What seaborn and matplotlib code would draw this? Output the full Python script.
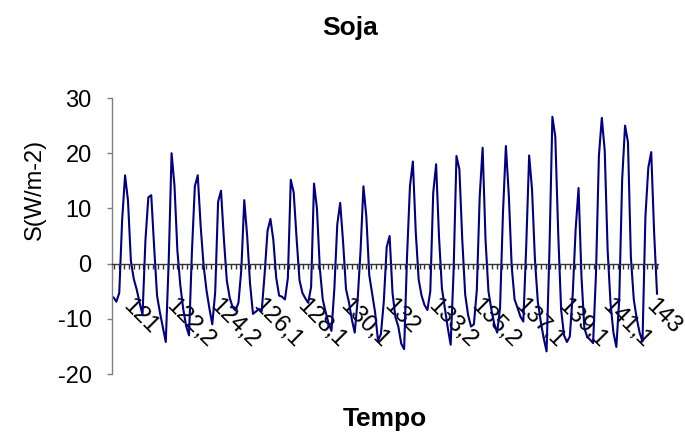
import numpy as np
import matplotlib
matplotlib.use("Agg")
import matplotlib.pyplot as plt
from matplotlib.ticker import FixedLocator
from matplotlib.transforms import ScaledTranslation
import seaborn as sns

# fluxo de calor no solo S (W/m2), lido ponto a ponto no grafico
fluxo = [
    -6.1, -6.9, -5.3, 8.0, 16.0, 11.4, 0.5, -2.8, -4.7, -7.1,
    -9.3, 4.2, 12.0, 12.4, 3.0, -5.8, -8.9, -11.6, -14.2, 0.3,
    20.0, 14.1, 2.3, -3.9, -8.2, -11.3, -13.0, 2.2, 14.0, 16.0,
    6.8, -0.3, -4.8, -8.1, -11.0, -5.2, 11.2, 13.2, 4.4, -3.1,
    -6.2, -7.9, -8.5, -7.1, -1.0, 11.5, 5.0, -3.7, -9.1, -8.7,
    -8.2, -8.6, -1.9, 5.9, 8.1, 4.3, -2.6, -5.8, -6.0, -6.5,
    -2.6, 15.2, 12.9, 4.6, -3.0, -5.3, -6.3, -7.1, -4.2, 14.5,
    10.0, -0.9, -6.5, -8.8, -10.8, -12.2, -4.5, 7.1, 11.0, 3.9,
    -4.6, -7.0, -10.1, -12.5, -6.6, 2.3, 14.0, 8.5, -2.1, -5.4,
    -8.8, -13.9, -12.8, -6.9, 3.0, 5.0, -5.3, -9.7, -11.4, -14.5,
    -15.5, 1.3, 14.0, 18.5, 5.7, -2.9, -5.8, -7.5, -8.4, -5.0,
    12.8, 18.0, 4.8, -4.5, -8.1, -11.6, -14.7, -1.6, 19.5, 17.1,
    4.3, -5.6, -9.3, -11.4, -11.0, -4.8, 12.2, 21.0, 4.3, -5.0,
    -8.3, -10.9, -12.5, -8.0, 9.2, 21.3, 12.5, -0.5, -6.5, -8.0,
    -9.6, -10.5, 3.2, 19.6, 13.4, 0.7, -7.0, -10.5, -13.5, -15.9,
    2.7, 26.6, 23.0, 5.5, -8.3, -13.0, -14.2, -13.2, -5.5, 6.2,
    13.7, -2.3, -11.7, -13.3, -13.8, -14.4, -1.8, 19.5, 26.4, 20.5,
    2.5, -7.2, -12.5, -15.1, -6.5, 15.2, 25.0, 22.0, 1.2, -6.5,
    -9.9, -12.5, -14.1, 8.5, 17.4, 20.2, 5.6, -5.5,
]

# dia juliano mostrado no eixo x
rotulos = ["121", "122,2", "124,2", "126,1", "128,1", "130,1", "132",
           "133,2", "135,2", "137,1", "139,1", "141,1", "143"]
inicio_rotulo = 7
passo_rotulo = 15

sns.set_theme(style="white")
plt.rcParams["font.family"] = ["Liberation Sans", "DejaVu Sans"]
plt.rcParams["axes.unicode_minus"] = False
plt.rcParams["text.color"] = "black"
plt.rcParams["axes.labelcolor"] = "black"
plt.rcParams["xtick.color"] = "black"
plt.rcParams["ytick.color"] = "black"

fig = plt.figure(figsize=(6.85, 4.36), dpi=100)
ax = fig.add_axes([0.1635, 0.1422, 0.7978, 0.633])

idx = np.arange(len(fluxo))
sns.lineplot(x=idx, y=fluxo, ax=ax, color="#000080", linewidth=1.5)

ax.set_xlim(-0.5, len(fluxo) - 0.5)
ax.set_ylim(-20, 30)
ax.set_yticks(range(-20, 31, 10))

ax.spines["top"].set_visible(False)
ax.spines["right"].set_visible(False)
ax.spines["bottom"].set_position(("data", 0))
ax.spines["bottom"].set_color("#333333")
ax.spines["bottom"].set_linewidth(1.0)
ax.spines["left"].set_color("#808080")
ax.spines["left"].set_linewidth(1.0)

# rotulos a cada 15 pontos, marcas a cada 15/9 pontos
passo_marca = passo_rotulo / 9
pos_rotulos = np.arange(inicio_rotulo, len(fluxo), passo_rotulo)
ax.set_xticks(pos_rotulos)
ax.set_xticklabels(rotulos, rotation=-45, ha="left", va="top",
                   rotation_mode="anchor", fontsize=17)
desloc = ScaledTranslation(8 / 100, 0, fig.dpi_scale_trans)
for lbl in ax.get_xticklabels():
    lbl.set_transform(lbl.get_transform() + desloc)
ax.xaxis.set_minor_locator(FixedLocator(
    np.arange(inicio_rotulo % passo_marca, len(fluxo), passo_marca)))
ax.tick_params(axis="x", which="both", bottom=True, direction="out",
               length=3.6, width=1.0, color="#333333")
ax.tick_params(axis="x", which="major", pad=19)
ax.tick_params(axis="y", left=True, direction="out", length=3.6, width=1.0,
               color="#808080", labelsize=17, pad=11)

ax.set_ylabel("S(W/m-2)", fontsize=17)
ax.yaxis.set_label_coords(-0.141, 0.667)
ax.yaxis.label.set_va("center")
ax.set_xlabel("Tempo", fontsize=19, fontweight="bold")
ax.xaxis.set_label_coords(0.5, -0.162)
ax.xaxis.label.set_va("center")

fig.text(0.511, 0.936, "Soja", ha="center", va="center",
         fontsize=19, fontweight="bold")

fig.savefig("out.png", dpi=100)
